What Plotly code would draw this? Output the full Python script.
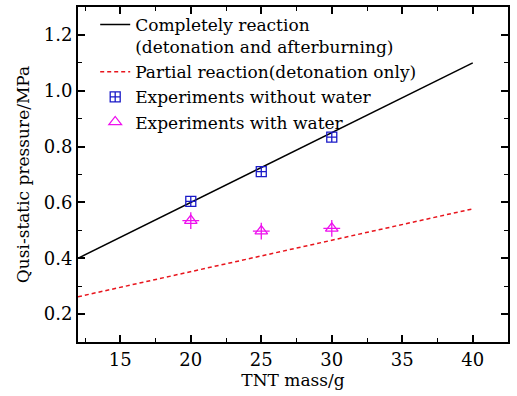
import plotly.graph_objects as go

# Theory lines
line_x = [12, 40]
complete_y = [0.40, 1.10]
partial_y = [0.262, 0.577]

# Experiments
exp_x = [20, 25, 30]
dry_y = [0.604, 0.710, 0.834]
wet_y = [0.535, 0.497, 0.507]

FONT = "DejaVu Serif"

fig = go.Figure()
fig.add_trace(go.Scatter(x=line_x, y=complete_y, mode="lines",
                         line=dict(color="black", width=1.5),
                         name="Completely reaction<br>(detonation and afterburning)"))
fig.add_trace(go.Scatter(x=line_x, y=partial_y, mode="lines",
                         line=dict(color="#e8141c", width=1.5, dash="4px,3px"),
                         name="Partial reaction(detonation only)"))
fig.add_trace(go.Scatter(x=exp_x, y=dry_y, mode="markers",
                         marker=dict(symbol="square-cross-open", size=10,
                                     color="#1a1ac8", line=dict(width=1.3)),
                         name="Experiments without water"))
fig.add_trace(go.Scatter(x=exp_x, y=wet_y, mode="markers",
                         marker=dict(symbol="triangle-up-open", size=11,
                                     color="#ee11ee", line=dict(width=1.3)),
                         name="Experiments with water", legendgroup="wet"))
fig.add_trace(go.Scatter(x=exp_x, y=wet_y, mode="markers",
                         marker=dict(symbol="cross-thin-open", size=12,
                                     color="#ee11ee", line=dict(width=1.3, color="#ee11ee")),
                         showlegend=False, legendgroup="wet", hoverinfo="skip"))

axis_common = dict(showline=True, linecolor="black", linewidth=2, mirror="allticks",
                   ticks="inside", ticklen=7, tickwidth=1.5, tickcolor="black",
                   showgrid=False, zeroline=False,
                   tickfont=dict(family=FONT, size=18, color="black"))

fig.update_layout(
    width=517, height=396,
    margin=dict(l=78, r=9, t=5, b=54),
    paper_bgcolor="white", plot_bgcolor="white",
    font=dict(family=FONT, size=17, color="black"),
    showlegend=True,
    legend=dict(x=0.04, y=1.0, xanchor="left", yanchor="top",
                bgcolor="rgba(0,0,0,0)", borderwidth=0, valign="top",
                font=dict(family=FONT, size=17, color="black"),
                tracegroupgap=0, itemwidth=30),
    xaxis=dict(range=[12, 42.5], tickvals=[15, 20, 25, 30, 35, 40],
               minor=dict(tickvals=[12.5, 17.5, 22.5, 27.5, 32.5, 37.5, 42.5],
                          ticks="inside", ticklen=4, tickwidth=1.2, tickcolor="black"),
               title=dict(text="TNT mass/g", font=dict(family=FONT, size=17), standoff=6),
               **axis_common),
    yaxis=dict(range=[0.1, 1.3], tickvals=[0.2, 0.4, 0.6, 0.8, 1.0, 1.2],
               ticktext=["0.2", "0.4", "0.6", "0.8", "1.0", "1.2"],
               minor=dict(tickvals=[0.1, 0.3, 0.5, 0.7, 0.9, 1.1],
                          ticks="inside", ticklen=4, tickwidth=1.2, tickcolor="black"),
               title=dict(text="Qusi-static pressure/MPa", font=dict(family=FONT, size=17), standoff=10),
               **axis_common),
)

fig.write_html("out.html")
